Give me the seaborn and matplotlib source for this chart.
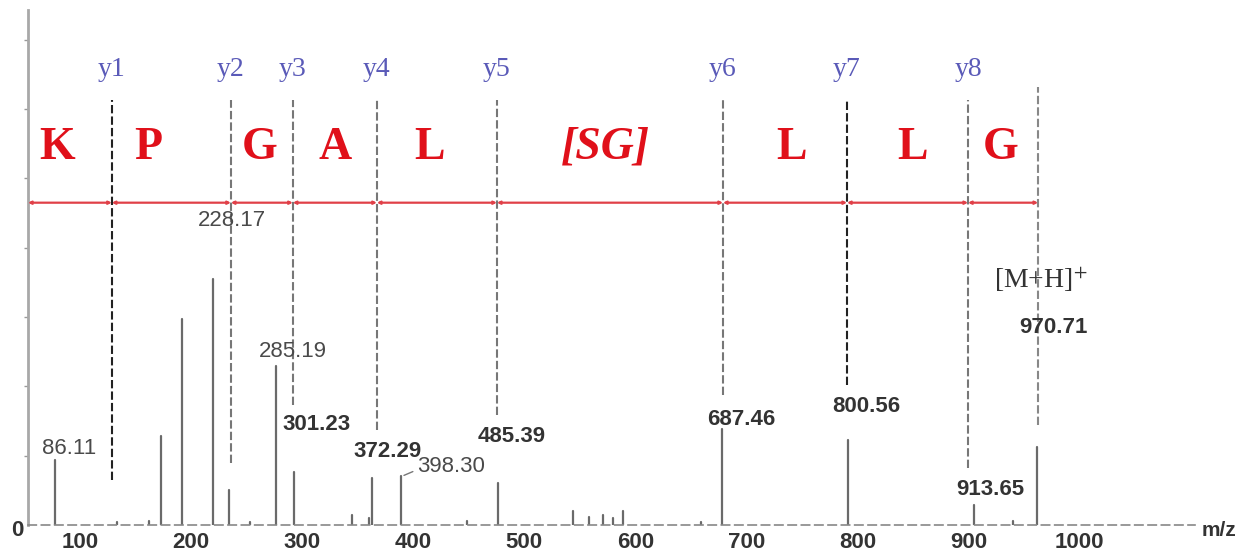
import matplotlib
matplotlib.use("Agg")
import matplotlib.pyplot as plt
import matplotlib.transforms as mtransforms
import seaborn as sns
import pandas as pd
import numpy as np

# labelled peaks (m/z, intensity in axis tick units)
peak_mz = [86.11, 181.6, 200.5, 228.17, 242.9, 285.19, 301.23, 371.7, 398.30,
           485.39, 687.46, 800.56, 913.65, 970.71]
peak_int = [0.94, 1.28, 2.97, 3.55, 0.51, 2.29, 0.77, 0.68, 0.70,
            0.61, 1.38, 1.23, 0.29, 1.13]

# small noise peaks
noise_mz = [142.0, 171.0, 262.0, 353.7, 369.0, 457.0, 553.0, 567.0, 580.0,
            588.8, 597.8, 668.0, 949.0]
noise_int = [0.05, 0.06, 0.05, 0.14, 0.10, 0.06, 0.20, 0.12, 0.15, 0.10, 0.20, 0.05, 0.06]

# peak label texts and whether they are bold
label_mz = [86.11, 228.17, 285.19, 301.23, 371.7, 398.30, 485.39, 687.46, 800.56, 913.65, 970.71]
label_txt = ["86.11", "228.17", "285.19", "301.23", "372.29", "398.30",
             "485.39", "687.46", "800.56", "913.65", "970.71"]
label_bold = [False, False, False, True, True, False, True, True, True, True, True]

# y-ion marker lines
ion_names = ["y1", "y2", "y3", "y4", "y5", "y6", "y7", "y8"]
ion_mz = [137.5, 244.7, 300.5, 376.2, 484.3, 687.9, 799.6, 908.6]
ion_bottom = [0.65, 0.89, 1.73, 1.37, 1.59, 1.88, 2.02, 0.82]
mh_mz = 971.7
mh_bottom = 1.44

# residues between the ion lines
residues = ["K", "P", "G", "A", "L", "[SG]", "L", "L", "G"]
residue_mz = [87.9, 169.9, 270.8, 338.4, 423.9, 581.6, 750.0, 859.0, 937.5]

xticks = [100, 200, 300, 400, 500, 600, 700, 800, 900, 1000]

sns.set_style("white")
plt.rcParams["font.family"] = ["Liberation Sans", "DejaVu Sans"]
plt.rcParams["mathtext.fontset"] = "stix"

fig = plt.figure(figsize=(12.47, 5.59), dpi=100)
ax = fig.add_axes([28 / 1247, 34 / 559, 1167 / 1247, 515 / 559])

# stick spectrum drawn through seaborn, one unit per peak
all_mz = peak_mz + noise_mz
all_int = peak_int + noise_int
rows = []
for i, (m, h) in enumerate(zip(all_mz, all_int)):
    rows.append({"mz": m, "intensity": 0.0, "peak": i})
    rows.append({"mz": m, "intensity": h, "peak": i})
spec = pd.DataFrame(rows)
sns.lineplot(data=spec, x="mz", y="intensity", units="peak", estimator=None,
             color="#6a6a6a", lw=1.6, ax=ax, sort=False)

# ion marker lines
dash = (0, (4, 1.5))
top = 6.13
for name, m, b in zip(ion_names, ion_mz, ion_bottom):
    c = "#222222" if name in ("y1", "y7") else "#777777"
    ax.vlines(m, b, top, colors=c, lw=1.5, linestyles=dash)
    ax.text(m, 6.57, name, ha="center", va="center", color="#5a5ab8",
            fontsize=20, family=["Liberation Serif", "DejaVu Serif"])
ax.vlines(mh_mz, mh_bottom, 6.32, colors="#888888", lw=1.5, linestyles=dash)

# red sequence bar with small arrows between consecutive cut points
red_y = 4.65
cuts = [62] + ion_mz + [mh_mz]
for a, b in zip(cuts[:-1], cuts[1:]):
    ax.annotate("", xy=(b, red_y), xytext=(a, red_y),
                arrowprops=dict(arrowstyle="<->", color="#e04048", lw=1.6,
                                shrinkA=0, shrinkB=0, mutation_scale=4))

for r, m in zip(residues, residue_mz):
    ax.text(m, 5.44, r, ha="center", va="center", color="#e0101a", fontsize=33,
            fontweight="bold", style="italic" if r.startswith("[") else "normal",
            family=["Liberation Serif", "DejaVu Serif"])

# peak labels, offset in pixels from the peak top
offsets = [(14, 11), (19, 58), (17, 15), (23, 47), (16, 26), (50, 10),
           (14, 46), (19, 10), (18, 33), (17, 15), (16, 119)]
for m, t, bold, off in zip(label_mz, label_txt, label_bold, offsets):
    h = peak_int[peak_mz.index(m)]
    ax.annotate(t, xy=(m, h), xytext=off, textcoords="offset pixels",
                ha="center", va="center", fontsize=16,
                fontweight="bold" if bold else "normal",
                color="#333333" if bold else "#4a4a4a")
# connector for 398.30
h398 = peak_int[peak_mz.index(398.30)]
ax.annotate("", xy=(398.30, h398), xytext=(14, 6), textcoords="offset pixels",
            arrowprops=dict(arrowstyle="-", color="#777777", lw=1))

ax.annotate(r"[M+H]$^{+}$", xy=(mh_mz, 0), xytext=(3, 245), textcoords="offset pixels",
            ha="center", va="center", fontsize=20, color="#333333",
            family=["Liberation Serif", "DejaVu Serif"])

ax.set_xlim(62, 1113)
ax.set_ylim(0, 7.43)
ax.set_xticks(xticks)
ax.set_xticklabels([str(t) for t in xticks], fontsize=16, fontweight="bold", color="#333333")
ax.tick_params(axis="x", length=0, pad=5)
ax.set_yticks(np.arange(1, 8))
ax.set_yticklabels([])
ax.tick_params(axis="y", left=True, length=3, width=1, color="#999999", direction="out")
ax.set_xlabel("")
ax.set_ylabel("")

# the printed scale sits a little right of the peaks
shift = mtransforms.ScaledTranslation(10 / 100, 0, fig.dpi_scale_trans)
for tick in ax.xaxis.get_major_ticks():
    tick.label1.set_transform(tick.label1.get_transform() + shift)

for s in ("top", "right"):
    ax.spines[s].set_visible(False)
ax.spines["left"].set_color("#a8a8a8")
ax.spines["left"].set_linewidth(2)
ax.spines["bottom"].set_color("#888888")
ax.spines["bottom"].set_linewidth(1.2)
ax.spines["bottom"].set_linestyle((0, (5, 3)))

ax.annotate("0", xy=(0, 0), xycoords="axes fraction", xytext=(-11, -5),
            textcoords="offset pixels", ha="center", va="center",
            fontsize=16, fontweight="bold", color="#333333")
ax.annotate("m/z", xy=(1, 0), xycoords="axes fraction", xytext=(24, -5),
            textcoords="offset pixels", ha="center", va="center",
            fontsize=15, fontweight="bold", color="#333333")

fig.savefig("out.png", dpi=100)
